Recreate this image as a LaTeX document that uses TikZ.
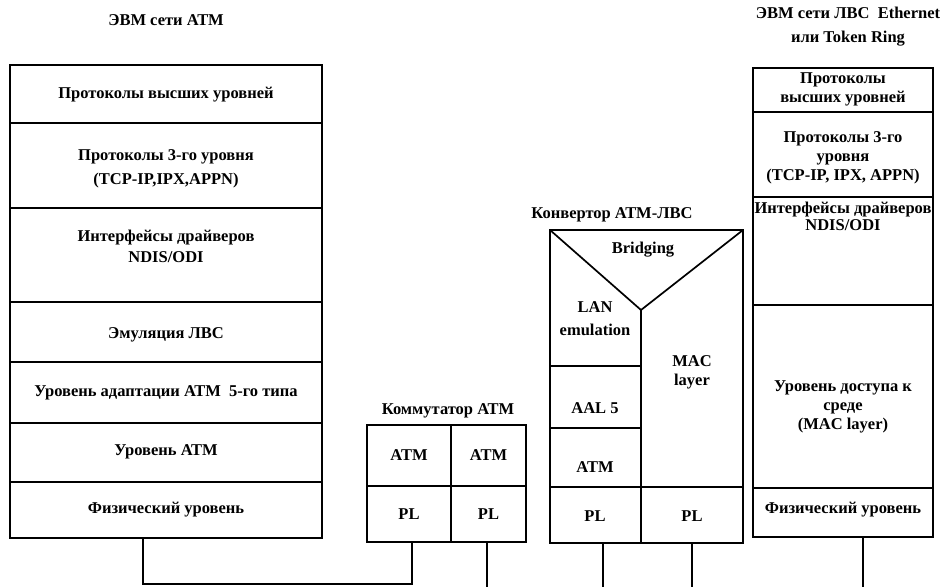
\documentclass[tikz,border=0pt]{standalone}
\usepackage{fontspec}
\setmainfont{Liberation Serif}
\newcommand\cellbox[5]{\node[box, minimum width={#4pt-#2pt}, minimum height={#5pt-#3pt}] (#1) at ({(#2+#4)/2},{(#3+#5)/2}) {};}
\begin{document}
\begin{tikzpicture}[x=1pt,y=-1pt,
  box/.style={draw, line width=1.7pt, rectangle, inner sep=0pt, outer sep=0pt},
  lbl/.style={font=\bfseries\fontsize{16.5}{19}\selectfont, align=center, inner sep=0pt},
  wire/.style={line width=1.7pt}]
\useasboundingbox[fill=white] (0,0) rectangle (942,587);

% ---- left stack: ATM host
\node[lbl] (tL) at (166,20) {ЭВМ сети АТМ};
\cellbox{L1}{10}{65}{322}{123}
\cellbox{L2}{10}{123}{322}{208}
\cellbox{L3}{10}{208}{322}{302}
\cellbox{L4}{10}{302}{322}{362}
\cellbox{L5}{10}{362}{322}{423}
\cellbox{L6}{10}{423}{322}{482}
\cellbox{L7}{10}{482}{322}{538}
\node[lbl] (tL1) at (166,95) {Протоколы высших уровней};
\node[lbl] (tL2) at (166,169) {Протоколы 3-го уровня\\[5pt](TCP-IP,IPX,APPN)};
\node[lbl] (tL3) at (166,246) {Интерфейсы драйверов\\[2pt]NDIS/ODI};
\node[lbl] (tL4) at (166,335) {Эмуляция ЛВС};
\node[lbl] (tL5) at (166,393) {Уровень адаптации АТМ\ \ 5-го типа};
\node[lbl] (tL6) at (166,452) {Уровень АТМ};
\node[lbl] (tL7) at (166,510) {Физический уровень};

% ---- ATM switch
\node[lbl] (tS) at (448,411) {Коммутатор АТМ};
\cellbox{S1}{367}{425}{451}{486}
\cellbox{S2}{451}{425}{526}{486}
\cellbox{S3}{367}{486}{451}{542}
\cellbox{S4}{451}{486}{526}{542}
\node[lbl] at (S1) {ATM};
\node[lbl] at (S2) {ATM};
\node[lbl] at (S3) {PL};
\node[lbl] at (S4) {PL};

% ---- ATM-LAN converter
\node[lbl] (tC) at (612,215) {Конвертор АТМ-ЛВС};
\cellbox{C}{550}{230}{743}{543}
\coordinate (vb) at (641,310);
\draw[wire] (C.north west) -- (vb) -- (C.north east);
\draw[wire] (vb) -- (vb |- C.south);
\draw[wire] (550,366) -- (641,366);
\draw[wire] (550,428) -- (641,428);
\draw[wire] (550,487) -- (743,487);
\node[lbl] (cB) at (643,250) {Bridging};
\node[lbl] (cL) at (595,319) {LAN\\[4pt]emulation};
\node[lbl] (cM) at (692,372) {MAC\\layer};
\node[lbl] (cA) at (595,408) {AAL 5};
\node[lbl] (cT) at (595,467) {ATM};
\node[lbl] (cP1) at (595,516) {PL};
\node[lbl] (cP2) at (692,516) {PL};

% ---- right stack: LAN host
\node[lbl] (tR) at (848,27) {ЭВМ сети ЛВС\ \ Ethernet\\[5pt]или Token Ring};
\cellbox{R1}{753}{68}{933}{112}
\cellbox{R2}{753}{112}{933}{197}
\cellbox{R3}{753}{197}{933}{305}
\cellbox{R4}{753}{305}{933}{488}
\cellbox{R5}{753}{488}{933}{537}
\node[lbl] at (843,89) {Протоколы\\высших уровней};
\node[lbl] at (843,158) {Протоколы 3-го\\уровня\\(TCP-IP, IPX, APPN)};
\node[lbl] at (843,216) {Интерфейсы драйверов\\[-2pt]NDIS/ODI};
\node[lbl] at (843,407) {Уровень доступа к\\среде\\(MAC layer)};
\node[lbl] at (843,510) {Физический уровень};

% ---- cabling
\coordinate (k1) at (143,584);
\coordinate (k2) at (412,584);
\coordinate (e1) at (487,587);
\coordinate (e2) at (603,587);
\coordinate (e3) at (692,587);
\coordinate (e4) at (863,587);
\draw[wire] (L7.south -| k1) -- (k1) -- (k2) -- (k2 |- S3.south);
\draw[wire] (e1 |- S4.south) -- (e1);
\draw[wire] (e2 |- C.south) -- (e2);
\draw[wire] (e3 |- C.south) -- (e3);
\draw[wire] (e4 |- R5.south) -- (e4);
\end{tikzpicture}
\end{document}
